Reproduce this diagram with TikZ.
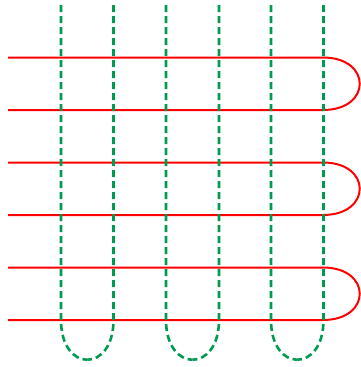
\documentclass[tikz,border=0pt]{standalone}
\definecolor{loopgreen}{RGB}{0,155,80}
\definecolor{loopred}{RGB}{255,0,0}
\tikzset{
  redloop/.style={draw=loopred, line width=2pt},
  greenloop/.style={draw=loopgreen, line width=2.6pt, dash pattern=on 7pt off 4pt}
}
\begin{document}
\begin{tikzpicture}[x=1pt,y=-1pt]
\useasboundingbox (0,0) rectangle (361,367);
% red horizontal loops
\foreach \a/\b in {57.5/110, 162.5/215, 267.5/320}{
  \draw[redloop] (8,\a) -- (323,\a) .. controls (372,\a) and (372,\b) .. (323,\b) -- (8,\b);
}
% green vertical loops, each side drawn from the top down to the bottom middle
\foreach \l/\r in {61/113.5, 166/219, 271/323.5}{
  \pgfmathsetmacro{\m}{(\l+\r)/2}
  \pgfmathsetmacro{\ql}{(3*\l+\r)/4}
  \pgfmathsetmacro{\qr}{(\l+3*\r)/4}
  \draw[greenloop] (\l,5) -- (\l,320) .. controls (\l,346.5) and (\ql,359.75) .. (\m,359.75);
  \draw[greenloop] (\r,5) -- (\r,320) .. controls (\r,346.5) and (\qr,359.75) .. (\m,359.75);
}
\end{tikzpicture}
\end{document}
